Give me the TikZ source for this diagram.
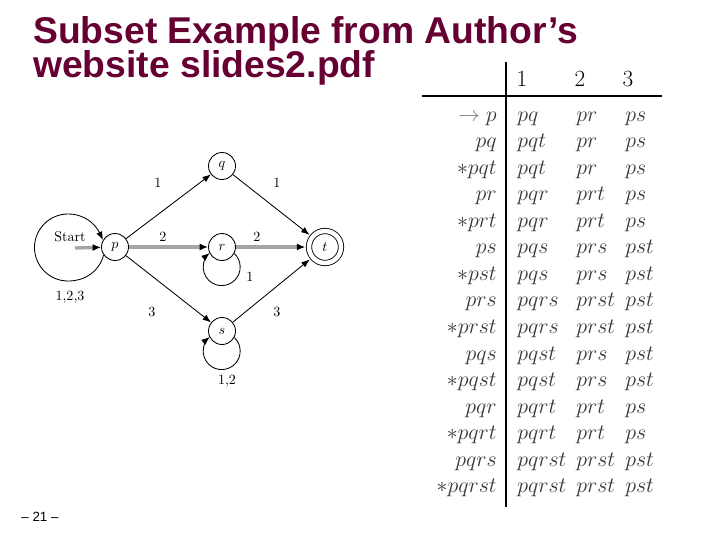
\documentclass[tikz,border=0pt]{standalone}
\usepackage{fontspec}
\usepackage{graphicx}
\newfontfamily\slidefont{Liberation Sans}
\usetikzlibrary{arrows.meta, positioning}
\definecolor{slidemaroon}{RGB}{102,0,51}
\definecolor{hotgray}{RGB}{165,165,165}
\definecolor{tabink}{RGB}{55,55,55}
\newcommand{\cellmath}[1]{\scalebox{1.08}{$#1$}}

\begin{document}
\begin{tikzpicture}[
  x=0.025cm, y=0.025cm,
  every node/.style={font=\normalsize},
  state/.style={circle, draw, line width=0.6pt, minimum size=0.675cm, inner sep=0pt},
  accept/.style={state, double, double distance=3.2pt, minimum size=0.8cm, outer sep=2.6pt},
  edge/.style={-{Latex[length=6pt, width=4.5pt]}, line width=0.6pt},
  hot/.style={-{Latex[length=6pt, width=5pt, black]}, line width=2.4pt, draw=hotgray},
  edgelabel/.style={inner sep=1pt},
  slidetitle/.style={font=\slidefont\bfseries\fontsize{26.5}{30}\selectfont, text=slidemaroon, inner sep=0pt, anchor=base west},
  colhead/.style={font=\fontsize{16.5}{19}\selectfont, inner sep=0pt, anchor=base},
  cell/.style={font=\fontsize{14.4}{17}\selectfont, text=tabink, inner sep=0pt},
]
\useasboundingbox[fill=white] (0,0) rectangle (720,-540);

% Title and page number
\node[slidetitle] (title1) at (33,-43) {Subset Example from Author’s};
\node[slidetitle] (title2) at (33,-77) {website slides2.pdf};
\node[font=\slidefont\fontsize{9.5}{11}\selectfont] (pagenum) at (40,-517) {– 21 –};

% Automaton
\node[state] (p) at (115,-247) {$p$};
\node[state] (q) at (222,-166) {$q$};
\node[state] (r) at (222,-247) {$r$};
\node[state] (s) at (222,-331) {$s$};
\node[accept] (t) at (325,-247) {$t$};

\node[edgelabel] (startlbl) at (70,-237) {Start};
\coordinate (startpt) at (75,-248);
\draw[hot] (startpt) -- (p);

\draw[edge] (p) -- (q);
\draw[edge] (q) -- (t);
\draw[hot] (p) -- (r);
\draw[hot] (r) -- (t);
\draw[edge] (p) -- (s);
\draw[edge] (s) -- (t);

% self loops
\coordinate (pbot) at (68,-281);
\draw[edge] (p.215) to[out=-105, in=0] (pbot) arc[start angle=-90, end angle=-270, radius=33.5]
  to[out=0, in=115] (p.150);
\draw[edge] (r.-28) arc[start angle=47, end angle=-230, radius=18.5];
\draw[edge] (s.-28) arc[start angle=47, end angle=-230, radius=18.5];

\node[edgelabel] (lpq) at (158,-183) {1};
\node[edgelabel] (lqt) at (277,-183) {1};
\node[edgelabel] (lpr) at (163,-237) {2};
\node[edgelabel] (lrt) at (257,-237) {2};
\node[edgelabel] (lps) at (152,-312) {3};
\node[edgelabel] (lst) at (277,-312) {3};
\node[edgelabel] (lpp) at (70,-297) {1,2,3};
\node[edgelabel] (lrr) at (250,-277) {1};
\node[edgelabel] (lss) at (227,-381) {1,2};

% Subset table
\draw[line width=2.1pt] (506,-62) -- (506,-507);
\draw[line width=2.1pt] (422,-96) -- (662,-96);
\node[colhead] (h1) at (522,-86) {1};
\node[colhead] (h2) at (580,-86) {2};
\node[colhead] (h3) at (628,-86) {3};

\foreach \a/\b/\c/\d [count=\i from 0] in {
  {\color{gray}\rightarrow}\;p/pq/pr/ps,
  pq/pqt/pr/ps,
  *pqt/pqt/pr/ps,
  pr/pqr/prt/ps,
  *prt/pqr/prt/ps,
  ps/pqs/prs/pst,
  *pst/pqs/prs/pst,
  prs/pqrs/prst/pst,
  *prst/pqrs/prst/pst,
  pqs/pqst/prs/pst,
  *pqst/pqst/prs/pst,
  pqr/pqrt/prt/ps,
  *pqrt/pqrt/prt/ps,
  pqrs/pqrst/prst/pst,
  *pqrst/pqrst/prst/pst}{
  \node[cell, anchor=base east] (lab\i) at (497,{-121-26.57*\i}) {\cellmath{\a}};
  \node[cell, anchor=base west] (one\i) at (517,{-121-26.57*\i}) {\cellmath{\b}};
  \node[cell, anchor=base west] (two\i) at (576,{-121-26.57*\i}) {\cellmath{\c}};
  \node[cell, anchor=base west] (three\i) at (625,{-121-26.57*\i}) {\cellmath{\d}};
}
\end{tikzpicture}
\end{document}
